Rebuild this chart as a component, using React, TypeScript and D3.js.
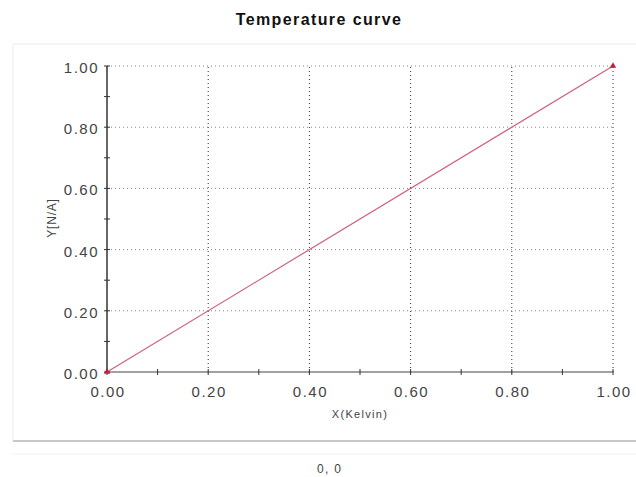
import React, { useEffect, useRef } from "react";
import * as d3 from "d3";

const xValues = [0, 1];
const yValues = [0, 1];
const xTicks = [0, 0.2, 0.4, 0.6, 0.8, 1.0];
const yTicks = [0, 0.2, 0.4, 0.6, 0.8, 1.0];
const title = "Temperature curve";
const xLabel = "X(Kelvin)";
const yLabel = "Y[N/A]";
const statusText = "0, 0";

const App = () => {
  const ref = useRef<SVGSVGElement>(null);

  useEffect(() => {
    const svg = d3.select(ref.current);
    svg.selectAll("*").remove();

    const width = 636;
    const height = 477;
    const font = "Liberation Sans, Arial, sans-serif";

    const x = d3.scaleLinear().domain([0, 1]).range([107, 613]);
    const y = d3.scaleLinear().domain([0, 1]).range([372, 66]);

    svg.attr("width", width).attr("height", height);

    // panel
    svg.append("rect").attr("x", 13).attr("y", 44).attr("width", 640).attr("height", 397)
      .attr("fill", "#fff").attr("stroke", "#ececec");
    svg.append("line").attr("x1", 13).attr("x2", 636).attr("y1", 441).attr("y2", 441)
      .attr("stroke", "#c8c8c8").attr("stroke-width", 2);
    svg.append("line").attr("x1", 13).attr("x2", 636).attr("y1", 454).attr("y2", 454)
      .attr("stroke", "#f2f2f2");

    svg.append("text").attr("x", 319).attr("y", 25).attr("text-anchor", "middle")
      .attr("font-family", font).attr("font-weight", "bold").attr("font-size", 16)
      .attr("letter-spacing", 1.4).attr("fill", "#111").text(title);

    // grid
    const g = svg.append("g");
    g.selectAll(".vg").data(xTicks.slice(1)).enter().append("line")
      .attr("x1", (d) => x(d)).attr("x2", (d) => x(d))
      .attr("y1", y(0)).attr("y2", y(1))
      .attr("stroke", "#333").attr("stroke-width", 1).attr("stroke-dasharray", "1,3");
    g.selectAll(".hg").data(yTicks.slice(1)).enter().append("line")
      .attr("x1", x(0)).attr("x2", x(1))
      .attr("y1", (d) => y(d)).attr("y2", (d) => y(d))
      .attr("stroke", "#888").attr("stroke-width", 1).attr("stroke-dasharray", "1,3");

    // axes lines
    svg.append("line").attr("x1", x(0)).attr("x2", x(1)).attr("y1", y(0)).attr("y2", y(0))
      .attr("stroke", "#444").attr("stroke-width", 1.2);
    svg.append("line").attr("x1", x(0)).attr("x2", x(0)).attr("y1", y(0)).attr("y2", y(1))
      .attr("stroke", "#333").attr("stroke-width", 1.5);

    // ticks
    const xMinor = d3.range(0, 1.0001, 0.1);
    svg.selectAll(".xt").data(xMinor).enter().append("line")
      .attr("x1", (d) => x(d)).attr("x2", (d) => x(d))
      .attr("y1", y(0) - 3).attr("y2", y(0) + 3).attr("stroke", "#333");
    const yMinor = d3.range(0, 1.0001, 0.1);
    svg.selectAll(".yt").data(yMinor).enter().append("line")
      .attr("x1", x(0) - 3).attr("x2", x(0) + 3)
      .attr("y1", (d) => y(d)).attr("y2", (d) => y(d)).attr("stroke", "#333");

    const fmt = d3.format(".2f");
    svg.selectAll(".xl").data(xTicks).enter().append("text")
      .attr("x", (d) => x(d) + 1).attr("y", y(0) + 25).attr("text-anchor", "middle")
      .attr("font-family", font).attr("font-size", 15).attr("letter-spacing", 1.5)
      .attr("fill", "#444").text((d) => fmt(d));
    svg.selectAll(".yl").data(yTicks).enter().append("text")
      .attr("x", x(0) - 8).attr("y", (d) => y(d) + 7).attr("text-anchor", "end")
      .attr("font-family", font).attr("font-size", 15).attr("letter-spacing", 1.5)
      .attr("fill", "#444").text((d) => fmt(d));

    svg.append("text").attr("x", 360).attr("y", 418).attr("text-anchor", "middle")
      .attr("font-family", font).attr("font-size", 11).attr("letter-spacing", 1.3)
      .attr("fill", "#444").text(xLabel);
    svg.append("text").attr("transform", "translate(56,218) rotate(-90)")
      .attr("text-anchor", "middle")
      .attr("font-family", font).attr("font-size", 12).attr("letter-spacing", 0.8)
      .attr("fill", "#444").text(yLabel);

    // series
    const pts = xValues.map((v, i) => [v, yValues[i]] as [number, number]);
    const line = d3.line<[number, number]>().x((d) => x(d[0])).y((d) => y(d[1]));
    svg.append("path").datum(pts).attr("d", line).attr("fill", "none")
      .attr("stroke", "#d0607a").attr("stroke-width", 1.2);
    const tri = d3.symbol().type(d3.symbolTriangle).size(18);
    svg.selectAll(".pt").data(pts).enter().append("path")
      .attr("transform", (d) => `translate(${x(d[0])},${y(d[1])})`)
      .attr("d", tri).attr("fill", "#c0203f");

    svg.append("text").attr("x", 317).attr("y", 473).attr("text-anchor", "start")
      .attr("font-family", font).attr("font-size", 12).attr("letter-spacing", 1.3)
      .attr("fill", "#444").text(statusText);
  }, []);

  return <svg ref={ref} style={{ position: "absolute", left: 0, top: 0 }}></svg>;
};

export default App;
